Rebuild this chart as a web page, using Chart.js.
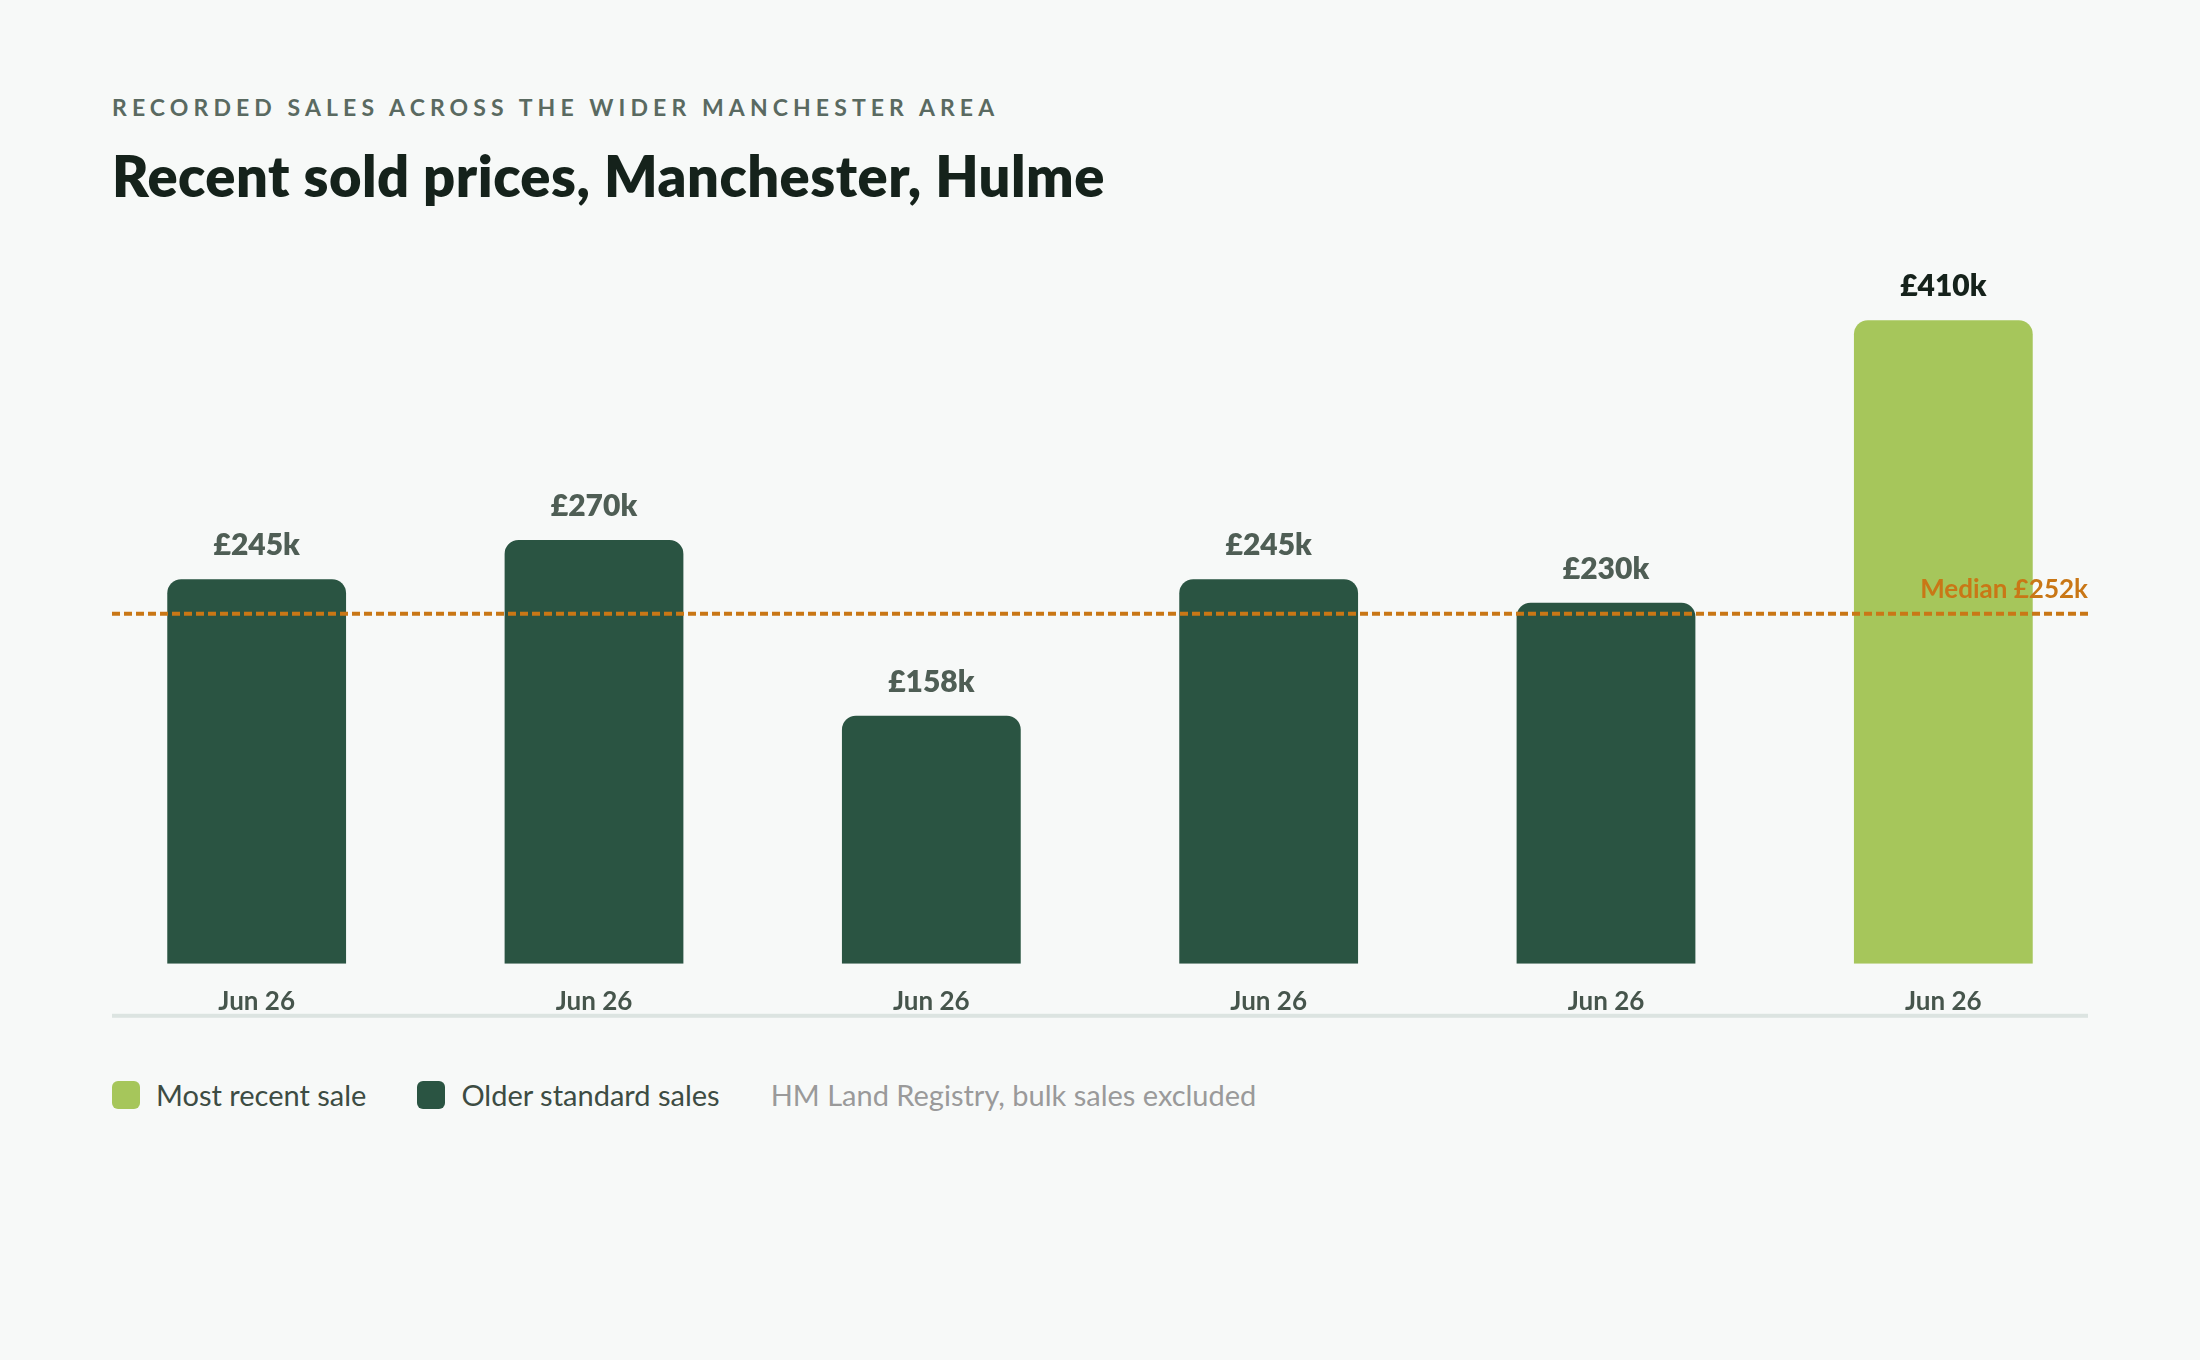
<!DOCTYPE html>
<html>
<head>
<meta charset="utf-8">
<script src="https://cdn.jsdelivr.net/npm/chart.js@4"></script>
<style>
  html, body { margin: 0; padding: 0; background: #f7f9f8; }
  body { width: 2200px; height: 1360px; position: relative; overflow: hidden; font-family: Lato, "Noto Sans", sans-serif; }
  .kicker { position: absolute; left: 112px; top: 96px; font-size: 23px; font-weight: 700; letter-spacing: 5.1px; color: #5a6a61; line-height: 1; }
  .title { position: absolute; left: 112px; top: 148px; font-size: 56px; font-weight: 800; color: #15221b; line-height: 1; letter-spacing: 0.5px; }
  #wrap { position: absolute; left: 0; top: 0; width: 2200px; height: 1040px; }
  .legend { position: absolute; left: 112px; top: 1077px; display: flex; align-items: center; font-size: 29px; color: #3d4c43; }
  .sw { width: 28px; height: 28px; border-radius: 6px; margin-right: 16px; }
  .item { display: flex; align-items: center; margin-right: 51px; }
  .src { color: #9a9a9a; }
</style>
</head>
<body>
<div class="kicker">RECORDED SALES ACROSS THE WIDER MANCHESTER AREA</div>
<div class="title">Recent sold prices, Manchester, Hulme</div>
<div id="wrap"><canvas id="c"></canvas></div>
<div class="legend">
  <div class="item"><div class="sw" style="background:#a6c65b"></div>Most recent sale</div>
  <div class="item"><div class="sw" style="background:#2a5442"></div>Older standard sales</div>
  <div class="src">HM Land Registry, bulk sales excluded</div>
</div>
<script>
// sale dates and prices in £k, oldest first
var labels = ["Jun 26", "Jun 26", "Jun 26", "Jun 26", "Jun 26", "Jun 26"];
var prices = [245, 270, 158, 245, 230, 410];
var recentIndex = 5;
var medianText = "Median £252k";
var medianLevel = 223; // where the dashed line sits on the price axis

var DARK = "#2a5442", LIGHT = "#a6c65b", ORANGE = "#c97716";

var barColors = prices.map(function (v, i) { return i === recentIndex ? LIGHT : DARK; });

var extras = {
  id: "extras",
  afterDatasetsDraw: function (chart) {
    var ctx = chart.ctx, area = chart.chartArea;
    var x0 = area.left + 24, x1 = area.right - 24;

    // price labels on top of the bars
    ctx.save();
    ctx.font = "800 30px Lato";
    ctx.textAlign = "center";
    ctx.textBaseline = "alphabetic";
    chart.getDatasetMeta(0).data.forEach(function (bar, i) {
      ctx.fillStyle = i === recentIndex ? "#15221b" : "#4f5e55";
      ctx.fillText("£" + prices[i] + "k", bar.x, bar.y - 24);
    });

    // median line
    var y = chart.scales.y.getPixelForValue(medianLevel);
    ctx.strokeStyle = ORANGE;
    ctx.lineWidth = 4;
    ctx.setLineDash([8, 4]);
    ctx.beginPath();
    ctx.moveTo(x0, y);
    ctx.lineTo(x1, y);
    ctx.stroke();
    ctx.setLineDash([]);
    ctx.fillStyle = ORANGE;
    ctx.font = "700 26px Lato";
    ctx.textAlign = "right";
    ctx.fillText(medianText, x1, y - 16);

    // baseline under the month labels
    var by = area.bottom + 52;
    ctx.fillStyle = "#dce4e1";
    ctx.fillRect(x0, by - 2, x1 - x0, 4);
    ctx.restore();
  }
};

new Chart(document.getElementById("c"), {
  type: "bar",
  data: {
    labels: labels,
    datasets: [{
      data: prices,
      backgroundColor: barColors,
      borderRadius: 14,
      borderSkipped: "bottom",
      categoryPercentage: 1,
      barPercentage: 0.53
    }]
  },
  options: {
    responsive: true,
    maintainAspectRatio: false,
    animation: false,
    layout: { padding: { left: 88, right: 88, top: 226, bottom: 1 } },
    plugins: { legend: { display: false }, tooltip: { enabled: false } },
    scales: {
      x: {
        grid: { display: false, drawTicks: false },
        border: { display: false },
        ticks: { color: "#46554c", font: { family: "Lato", size: 26, weight: "700" }, padding: 22 }
      },
      y: {
        display: false,
        min: 0,
        max: 470
      }
    }
  },
  plugins: [extras]
});
</script>
</body>
</html>
